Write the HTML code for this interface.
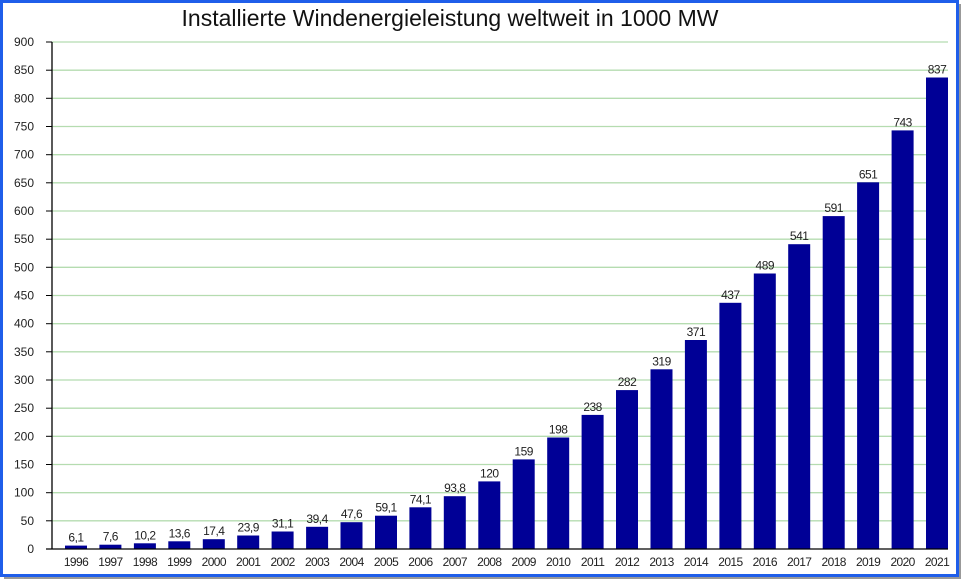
<!DOCTYPE html><html><head><style>body{margin:0;background:#fff}svg{display:block}</style></head><body>
<svg width="961" height="579" xmlns="http://www.w3.org/2000/svg" font-family="Liberation Sans, sans-serif">
<rect x="0" y="0" width="961" height="579" fill="#fff"/>
<rect x="1.5" y="1.5" width="956" height="574" fill="none" stroke="#1f5eea" stroke-width="3"/>
<rect x="959" y="4" width="2" height="575" fill="#999"/><rect x="4" y="577" width="957" height="2" fill="#999"/>
<text x="450" y="26" font-size="23" text-anchor="middle" fill="#111">Installierte Windenergieleistung weltweit in 1000 MW</text>
<g stroke="#b5dcb0" stroke-width="1.3">
<line x1="52" x2="948" y1="520.8" y2="520.8"/><line x1="52" x2="948" y1="492.7" y2="492.7"/><line x1="52" x2="948" y1="464.5" y2="464.5"/><line x1="52" x2="948" y1="436.3" y2="436.3"/><line x1="52" x2="948" y1="408.2" y2="408.2"/><line x1="52" x2="948" y1="380" y2="380"/><line x1="52" x2="948" y1="351.8" y2="351.8"/><line x1="52" x2="948" y1="323.7" y2="323.7"/><line x1="52" x2="948" y1="295.5" y2="295.5"/><line x1="52" x2="948" y1="267.3" y2="267.3"/><line x1="52" x2="948" y1="239.2" y2="239.2"/><line x1="52" x2="948" y1="211" y2="211"/><line x1="52" x2="948" y1="182.8" y2="182.8"/><line x1="52" x2="948" y1="154.7" y2="154.7"/><line x1="52" x2="948" y1="126.5" y2="126.5"/><line x1="52" x2="948" y1="98.3" y2="98.3"/><line x1="52" x2="948" y1="70.2" y2="70.2"/><line x1="52" x2="948" y1="42" y2="42"/>
</g>
<g stroke="#000">
<line x1="46" x2="52" y1="549" y2="549"/><line x1="46" x2="52" y1="520.8" y2="520.8"/><line x1="46" x2="52" y1="492.7" y2="492.7"/><line x1="46" x2="52" y1="464.5" y2="464.5"/><line x1="46" x2="52" y1="436.3" y2="436.3"/><line x1="46" x2="52" y1="408.2" y2="408.2"/><line x1="46" x2="52" y1="380" y2="380"/><line x1="46" x2="52" y1="351.8" y2="351.8"/><line x1="46" x2="52" y1="323.7" y2="323.7"/><line x1="46" x2="52" y1="295.5" y2="295.5"/><line x1="46" x2="52" y1="267.3" y2="267.3"/><line x1="46" x2="52" y1="239.2" y2="239.2"/><line x1="46" x2="52" y1="211" y2="211"/><line x1="46" x2="52" y1="182.8" y2="182.8"/><line x1="46" x2="52" y1="154.7" y2="154.7"/><line x1="46" x2="52" y1="126.5" y2="126.5"/><line x1="46" x2="52" y1="98.3" y2="98.3"/><line x1="46" x2="52" y1="70.2" y2="70.2"/><line x1="46" x2="52" y1="42" y2="42"/>
</g>
<g font-size="12" text-anchor="end" fill="#222">
<text x="34" y="553">0</text><text x="34" y="524.8">50</text><text x="34" y="496.7">100</text><text x="34" y="468.5">150</text><text x="34" y="440.3">200</text><text x="34" y="412.2">250</text><text x="34" y="384">300</text><text x="34" y="355.8">350</text><text x="34" y="327.7">400</text><text x="34" y="299.5">450</text><text x="34" y="271.3">500</text><text x="34" y="243.2">550</text><text x="34" y="215">600</text><text x="34" y="186.8">650</text><text x="34" y="158.7">700</text><text x="34" y="130.5">750</text><text x="34" y="102.3">800</text><text x="34" y="74.2">850</text><text x="34" y="46">900</text>
</g>
<g fill="#000096">
<rect x="65" y="545.6" width="22" height="3.4"/>
<rect x="99.4" y="544.7" width="22" height="4.3"/>
<rect x="133.9" y="543.3" width="22" height="5.7"/>
<rect x="168.3" y="541.3" width="22" height="7.7"/>
<rect x="202.8" y="539.2" width="22" height="9.8"/>
<rect x="237.2" y="535.5" width="22" height="13.5"/>
<rect x="271.6" y="531.5" width="22" height="17.5"/>
<rect x="306.1" y="526.8" width="22" height="22.2"/>
<rect x="340.5" y="522.2" width="22" height="26.8"/>
<rect x="375" y="515.7" width="22" height="33.3"/>
<rect x="409.4" y="507.3" width="22" height="41.7"/>
<rect x="443.8" y="496.2" width="22" height="52.8"/>
<rect x="478.3" y="481.4" width="22" height="67.6"/>
<rect x="512.7" y="459.4" width="22" height="89.6"/>
<rect x="547.2" y="437.5" width="22" height="111.5"/>
<rect x="581.6" y="414.9" width="22" height="134.1"/>
<rect x="616" y="390.1" width="22" height="158.9"/>
<rect x="650.5" y="369.3" width="22" height="179.7"/>
<rect x="684.9" y="340" width="22" height="209"/>
<rect x="719.4" y="302.8" width="22" height="246.2"/>
<rect x="753.8" y="273.5" width="22" height="275.5"/>
<rect x="788.2" y="244.2" width="22" height="304.8"/>
<rect x="822.7" y="216.1" width="22" height="332.9"/>
<rect x="857.1" y="182.3" width="22" height="366.7"/>
<rect x="891.6" y="130.4" width="22" height="418.6"/>
<rect x="926" y="77.5" width="22" height="471.5"/>
</g>
<g font-size="12" text-anchor="middle" fill="#222" letter-spacing="-0.5">
<text x="76" y="541.6">6,1</text><text x="110.4" y="540.7">7,6</text><text x="144.9" y="539.3">10,2</text><text x="179.3" y="537.3">13,6</text><text x="213.8" y="535.2">17,4</text><text x="248.2" y="531.5">23,9</text><text x="282.6" y="527.5">31,1</text><text x="317.1" y="522.8">39,4</text><text x="351.5" y="518.2">47,6</text><text x="386" y="511.7">59,1</text><text x="420.4" y="503.3">74,1</text><text x="454.8" y="492.2">93,8</text><text x="489.3" y="477.4">120</text><text x="523.7" y="455.4">159</text><text x="558.2" y="433.5">198</text><text x="592.6" y="410.9">238</text><text x="627" y="386.1">282</text><text x="661.5" y="365.3">319</text><text x="695.9" y="336">371</text><text x="730.4" y="298.8">437</text><text x="764.8" y="269.5">489</text><text x="799.2" y="240.2">541</text><text x="833.7" y="212.1">591</text><text x="868.1" y="178.3">651</text><text x="902.6" y="126.4">743</text><text x="937" y="73.5">837</text>
</g>
<g font-size="12" text-anchor="middle" fill="#222" letter-spacing="-0.6">
<text x="76" y="566">1996</text><text x="110.4" y="566">1997</text><text x="144.9" y="566">1998</text><text x="179.3" y="566">1999</text><text x="213.8" y="566">2000</text><text x="248.2" y="566">2001</text><text x="282.6" y="566">2002</text><text x="317.1" y="566">2003</text><text x="351.5" y="566">2004</text><text x="386" y="566">2005</text><text x="420.4" y="566">2006</text><text x="454.8" y="566">2007</text><text x="489.3" y="566">2008</text><text x="523.7" y="566">2009</text><text x="558.2" y="566">2010</text><text x="592.6" y="566">2011</text><text x="627" y="566">2012</text><text x="661.5" y="566">2013</text><text x="695.9" y="566">2014</text><text x="730.4" y="566">2015</text><text x="764.8" y="566">2016</text><text x="799.2" y="566">2017</text><text x="833.7" y="566">2018</text><text x="868.1" y="566">2019</text><text x="902.6" y="566">2020</text><text x="937" y="566">2021</text>
</g>
<line x1="52" x2="52" y1="42" y2="549" stroke="#000" stroke-width="1.3"/>
<line x1="46" x2="948" y1="549" y2="549" stroke="#000" stroke-width="1.3"/>
</svg></body></html>
